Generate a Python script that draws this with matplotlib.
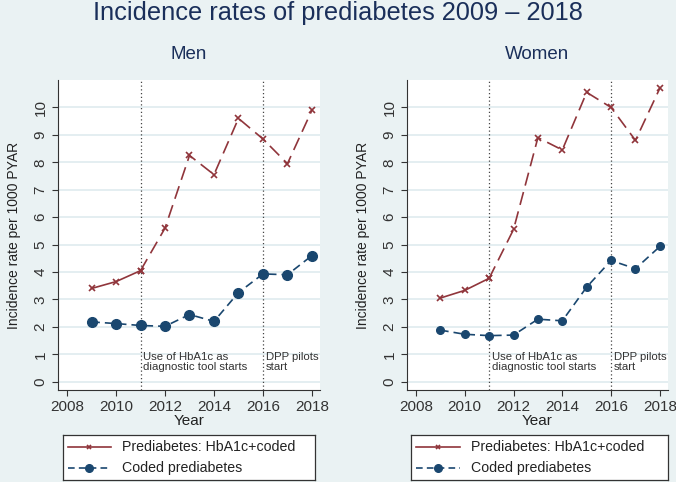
import numpy as np
from matplotlib import pyplot as plt

plt.rcParams['font.family'] = ['Liberation Sans', 'DejaVu Sans']

years = [2009, 2010, 2011, 2012, 2013, 2014, 2015, 2016, 2017, 2018]
men_hba1c = [3.4, 3.65, 4.05, 5.6, 8.25, 7.55, 9.6, 8.85, 7.95, 9.9]
men_coded = [2.18, 2.12, 2.05, 2.02, 2.45, 2.2, 3.25, 3.93, 3.9, 4.6]
women_hba1c = [3.05, 3.33, 3.77, 5.55, 8.9, 8.45, 10.55, 10.0, 8.8, 10.7]
women_coded = [1.88, 1.73, 1.68, 1.7, 2.28, 2.22, 3.45, 4.42, 4.12, 4.93]
panels = ['Men', 'Women']
events = [2011, 2016]
event_labels = ['Use of HbA1c as\ndiagnostic tool starts', 'DPP pilots\nstart']

bg = '#eaf2f3'
red = '#90353b'
navy = '#1a476f'
txt = '#1a2f5a'

fig = plt.figure(figsize=(6.76, 4.82), dpi=100, facecolor=bg)
fig.text(0.5, 0.972, 'Incidence rates of prediabetes 2009 \u2013 2018', ha='center', va='center',
         fontsize=18.3, color=txt)

ax_pos = [[0.0858, 0.191, 0.3876, 0.643], [0.602, 0.191, 0.386, 0.643]]
leg_pos = [[0.0932, 0.004, 0.3728, 0.093], [0.608, 0.004, 0.380, 0.093]]
data = [(men_hba1c, men_coded, 7), (women_hba1c, women_coded, 5.5)]

for i, name in enumerate(panels):
    ax = fig.add_axes(ax_pos[i])
    hba1c, coded, msize = data[i]
    ax.set_facecolor('white')
    ax.set_xlim(2007.63, 2018.33)
    ax.set_ylim(-0.3, 11.0)
    ax.set_yticks(range(0, 11))
    ax.set_xticks(range(2008, 2019, 2))
    ax.grid(axis='y', color='#e2edf0', linewidth=1.3)
    ax.set_axisbelow(True)
    for s in ['top', 'right']:
        ax.spines[s].set_visible(False)
    for s in ['left', 'bottom']:
        ax.spines[s].set_color('#333333')
    ax.tick_params(colors='#333333', labelsize=11, length=4)
    plt.setp(ax.get_yticklabels(), rotation=90, va='center')
    ax.set_xlabel('Year', fontsize=11, color='#222222', labelpad=0)
    ax.set_ylabel('Incidence rate per 1000 PYAR', fontsize=10, color='#222222', labelpad=9)
    ax.set_title(name, fontsize=13.5, color=txt, pad=15)

    for ev, lab in zip(events, event_labels):
        ax.axvline(ev, color='#444444', linestyle=(0, (1, 2)), linewidth=0.9)
        ax.text(ev + 0.12, 1.1, lab, fontsize=8.2, color='#333333', va='top', ha='left',
                linespacing=1.1)

    # solid up to 2011, dashed afterwards
    ax.plot(years[:3], hba1c[:3], color=red, linewidth=1.2, marker='x', markersize=4,
            markeredgewidth=1.2)
    ax.plot(years[2:], hba1c[2:], color=red, linewidth=1.2, linestyle=(0, (8, 4)),
            marker='x', markersize=4, markeredgewidth=1.2)
    ax.plot(years, coded, color=navy, linewidth=1.2, linestyle=(0, (5, 3)),
            marker='o', markersize=msize)

    # legend box
    lax = fig.add_axes(leg_pos[i])
    lax.set_xlim(0, 1)
    lax.set_ylim(0, 1)
    lax.set_xticks([])
    lax.set_yticks([])
    lax.set_facecolor('white')
    for s in lax.spines.values():
        s.set_color('#333333')
        s.set_linewidth(0.9)
    lax.plot([0.02, 0.19], [0.73, 0.73], color=red, linewidth=1.2)
    lax.plot([0.105], [0.73], color=red, marker='x', markersize=3.5, markeredgewidth=1.2)
    lax.plot([0.02, 0.19], [0.27, 0.27], color=navy, linewidth=1.2, linestyle=(0, (4, 2.5)))
    lax.plot([0.105], [0.27], color=navy, marker='o', markersize=5.5)
    lax.text(0.235, 0.73, 'Prediabetes: HbA1c+coded', fontsize=10.2, color='#222222', va='center')
    lax.text(0.235, 0.27, 'Coded prediabetes', fontsize=10.2, color='#222222', va='center')

plt.savefig('out.png', dpi=100, facecolor=bg)
